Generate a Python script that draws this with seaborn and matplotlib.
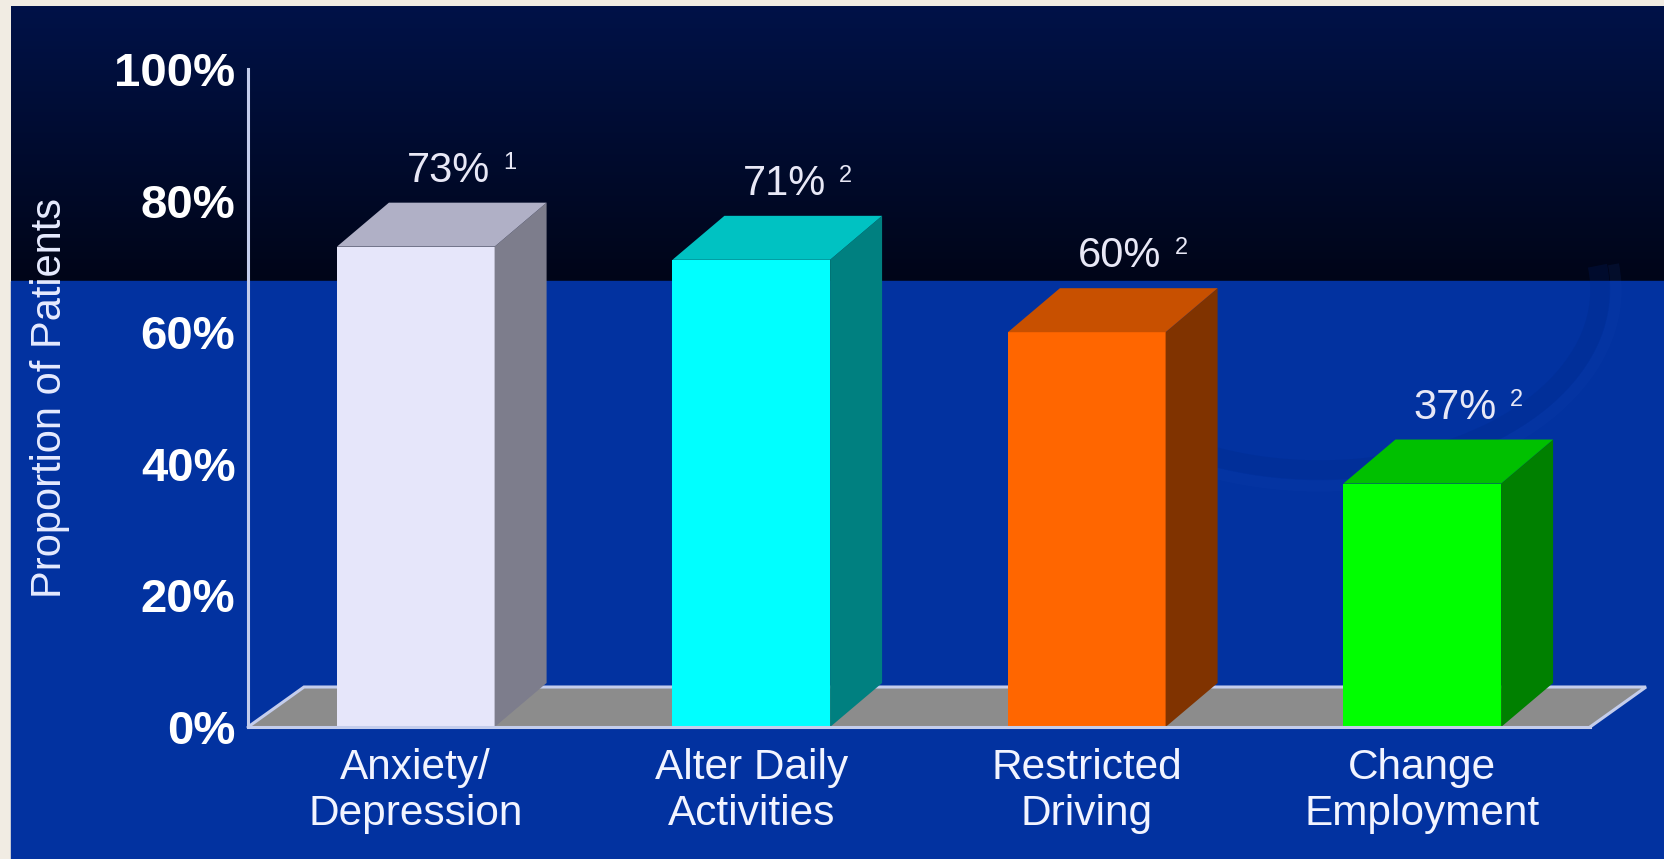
import numpy as np
import pandas as pd
import matplotlib
matplotlib.use("Agg")
import matplotlib.pyplot as plt
from matplotlib.patches import Polygon, Rectangle, Arc
import seaborn as sns

# ---- data -------------------------------------------------------------
categories = ["Anxiety/\nDepression", "Alter Daily\nActivities",
              "Restricted\nDriving", "Change\nEmployment"]
values = [73, 71, 60, 37]
refs = ["1", "2", "2", "2"]
y_ticks = [0, 20, 40, 60, 80, 100]
y_tick_labels = ["0%", "20%", "40%", "60%", "80%", "100%"]

front_colors = ["#e6e6fa", "#00ffff", "#ff6600", "#00ff00"]
top_colors = ["#b0b0c6", "#00c2c2", "#c85000", "#00c000"]
side_colors = ["#7d7d8c", "#008080", "#803300", "#008000"]

# ---- figure geometry (pixels) -------------------------------------------
W, H, DPI = 1665, 859, 100
AX_L, AX_R, AX_T, AX_B = 248, 1590, 69, 727
BAR_DX, BAR_DY = 52, 44        # 3-D depth of the bars
FLOOR_DX, FLOOR_DY = 56, 40    # 3-D depth of the floor
AXIS_COLOR = "#c4cdec"
TEXT_COLOR = "#f2f4ff"

sns.set_style("white")
plt.rcParams["font.family"] = ["Liberation Sans", "DejaVu Sans"]

fig = plt.figure(figsize=(W / DPI, H / DPI), dpi=DPI)

# ---- slide background ---------------------------------------------------
bg = fig.add_axes([0, 0, 1, 1], zorder=-10)
bg.set_xlim(0, W)
bg.set_ylim(H, 0)
bg.axis("off")
bg.add_patch(Rectangle((0, 0), W, H, color="#f1ece3", zorder=0))
grad = np.linspace(0, 1, 256)[:, None]
top_c = np.array([0, 18, 72]) / 255
bot_c = np.array([0, 5, 24]) / 255
img = top_c[None, None, :] * (1 - grad[..., None]) + bot_c[None, None, :] * grad[..., None]
img = np.repeat(img, 2, axis=1)
bg.imshow(img, extent=[11, W, 281, 6], aspect="auto", zorder=1, interpolation="bilinear")
bg.add_patch(Rectangle((11, 281), W - 11, H - 281, color="#0232a0", zorder=1))
# faint swoosh in the lower-right of the slide
bg.add_patch(Arc((1320, 290), 560, 360, theta1=-5, theta2=175,
                 color="#01247e", lw=14, alpha=0.2, zorder=2))
bg.add_patch(Arc((1320, 290), 592, 392, theta1=-5, theta2=175,
                 color="#1a48b4", lw=8, alpha=0.12, zorder=2))

# ---- chart axes -----------------------------------------------------------
ax = fig.add_axes([AX_L / W, 1 - AX_B / H, (AX_R - AX_L) / W, (AX_B - AX_T) / H])
ax.set_facecolor("none")

df = pd.DataFrame({"category": categories, "value": values})
sns.barplot(data=df, x="category", y="value", hue="category",
            palette=front_colors, legend=False, width=0.47, saturation=1,
            linewidth=0, ax=ax, zorder=3)

ax.set_xlim(-0.5, len(categories) - 0.5)
ax.set_ylim(0, 100)

ux = (len(categories)) / (AX_R - AX_L)   # data units per pixel, x
uy = 100 / (AX_B - AX_T)                 # data units per pixel, y

# floor
x0, x1 = ax.get_xlim()
fdx, fdy = FLOOR_DX * ux, FLOOR_DY * uy
floor = [(x0, 0), (x1, 0), (x1 + fdx, fdy), (x0 + fdx, fdy)]
ax.add_patch(Polygon(floor, closed=True, facecolor="#8c8c8c", edgecolor="none",
                     zorder=1, clip_on=False))
ax.plot([x0, x0 + fdx, x1 + fdx, x1], [0, fdy, fdy, 0], color=AXIS_COLOR,
        lw=2.2, zorder=1.5, clip_on=False, solid_joinstyle="miter")

# 3-D faces of each bar
bdx, bdy = BAR_DX * ux, BAR_DY * uy
for i, p in enumerate(ax.patches[:len(values)]):
    bx0 = p.get_x()
    bx1 = bx0 + p.get_width()
    h = p.get_height()
    side = [(bx1, 0), (bx1 + bdx, bdy), (bx1 + bdx, h + bdy), (bx1, h)]
    top = [(bx0, h), (bx1, h), (bx1 + bdx, h + bdy), (bx0 + bdx, h + bdy)]
    ax.add_patch(Polygon(side, closed=True, facecolor=side_colors[i],
                         edgecolor="none", zorder=3, clip_on=False))
    ax.add_patch(Polygon(top, closed=True, facecolor=top_colors[i],
                         edgecolor="none", zorder=3, clip_on=False))
    # value label with reference superscript
    cx = bx0 + p.get_width() / 2
    ax.annotate(f"{values[i]}%", xy=(cx, h), xytext=(BAR_DX - 19, BAR_DY + 21),
                textcoords="offset pixels", ha="center", va="baseline",
                fontsize=30, color="#e8e8f6", zorder=5, annotation_clip=False)
    ax.annotate(refs[i], xy=(cx, h), xytext=(BAR_DX + 36, BAR_DY + 21 + 13),
                textcoords="offset pixels", ha="left", va="baseline",
                fontsize=17, color="#e8e8f6", zorder=5, annotation_clip=False)

# spines
for s in ["top", "right"]:
    ax.spines[s].set_visible(False)
for s in ["left", "bottom"]:
    ax.spines[s].set_color(AXIS_COLOR)
    ax.spines[s].set_linewidth(2.2)
    ax.spines[s].set_zorder(4)

# y axis ticks
ax.set_yticks(y_ticks)
ax.set_yticklabels(y_tick_labels)
ax.tick_params(axis="y", length=7.5, width=1.6, color=AXIS_COLOR, pad=1.5,
               labelsize=34, labelcolor="white", direction="out")
for lbl in ax.get_yticklabels():
    lbl.set_fontweight("bold")

# x axis: labels at the centres, tick marks between categories
ax.set_xticks(range(len(categories)))
ax.set_xticklabels(categories, linespacing=1.2)
ax.set_xticks(np.arange(len(categories)) + 0.5, minor=True)
ax.tick_params(axis="x", which="major", length=0, pad=15, labelsize=30.5,
               labelcolor=TEXT_COLOR)
ax.tick_params(axis="x", which="minor", length=8, width=1.6, color=AXIS_COLOR,
               direction="out")
ax.set_xlabel("")
ax.set_ylabel("")

fig.text(50 / W, 1 - 398 / H, "Proportion of Patients", rotation=90,
         ha="center", va="center", fontsize=30, color="#e6ebff")

fig.savefig("out.png", dpi=DPI)
